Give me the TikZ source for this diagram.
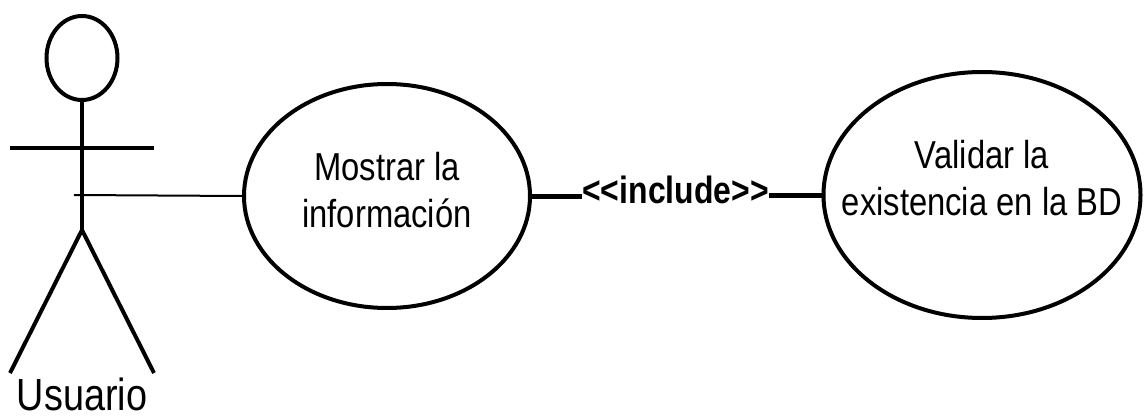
\documentclass[tikz,border=0pt]{standalone}
\usepackage{fontspec}
\setmainfont[FakeStretch=0.84]{Liberation Sans}
\usetikzlibrary{shapes.geometric}
\tikzset{
  usecase/.style={ellipse, draw=black, line width=4pt, inner sep=0pt, fill=white},
  uctext/.style={align=center, inner sep=0pt, font=\fontsize{39}{47}\selectfont},
  actorline/.style={line width=4pt, line cap=butt},
  assoc/.style={line width=2pt},
  incline/.style={line width=5pt},
}
\begin{document}
\begin{tikzpicture}[x=1pt,y=-1pt]
\useasboundingbox (0,0) rectangle (1144,420);
% actor
\node[draw=black, line width=4pt, ellipse, minimum width=71pt, minimum height=84pt, inner sep=0pt] (head) at (82,58) {};
\coordinate (hip) at (82,230);
\coordinate (larm) at (10,148);
\coordinate (rarm) at (154,148);
\coordinate (lfoot) at (10,373);
\coordinate (rfoot) at (154,373);
\coordinate (assocstart) at (74,195);
\draw[actorline] (head.south) -- (hip);
\draw[actorline] (larm) -- (rarm);
\draw[actorline, line join=miter] (lfoot) -- (hip) -- (rfoot);
\node[anchor=base, inner sep=0pt, font=\fontsize{45}{54}\selectfont] (actorname) at (82,410) {Usuario};
% use cases
\node[usecase, minimum width=286pt, minimum height=224pt] (u1) at (387,196) {};
\node[uctext] (u1t) at (387,190) {Mostrar la\\información};
\node[usecase, minimum width=317pt, minimum height=246pt] (u2) at (982,195) {};
\node[uctext] (u2t) at (982,178) {Validar la\\existencia en la BD};
% connectors
\draw[assoc] (assocstart) -- (u1.west);
\node[anchor=base, inner sep=0pt, font=\bfseries\fontsize{38}{46}\selectfont] (inc) at (675.5,203) {{<}{<}include{>}{>}};
\draw[incline] (u1.east) -- (u1.east -| inc.west);
\draw[incline] (u2.west -| inc.east) -- (u2.west);
\end{tikzpicture}
\end{document}
